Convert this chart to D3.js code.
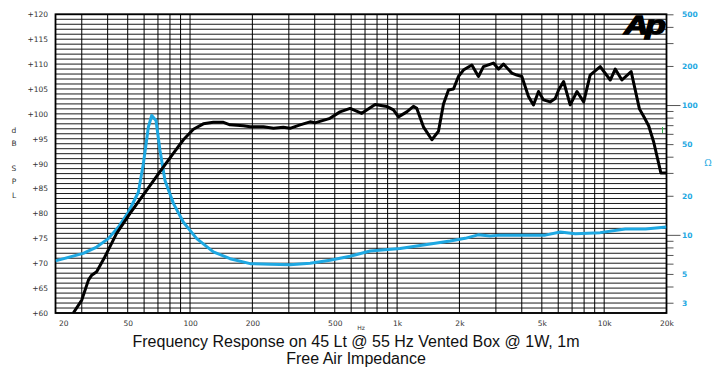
<!DOCTYPE html>
<html>
<head>
<meta charset="utf-8">
<script src="https://cdn.jsdelivr.net/npm/d3@7"></script>
<style>
    body { margin: 0; background: #fff; overflow: hidden; }
    svg { display: block; }
    .tick text { font-family: "DejaVu Sans", sans-serif; font-size: 7.5px; }
    .caption { font-family: "Liberation Sans", Arial, sans-serif; font-size: 16px; fill: #111; }
</style>
</head>
<body>
<div id="chart"></div>
<script>
// SPL curve (black), dB vs Hz
const splFreq = [27.3, 30, 32.3, 33.5, 35.4, 38.8, 44.2, 51.3, 61.8, 71.6, 83.2, 92.9, 103.8, 115.9, 129.6, 145, 156, 181, 195, 226, 253, 282, 304, 340, 380, 401, 474, 530, 593, 675, 783, 891, 960, 1015, 1114, 1199, 1245, 1340, 1472, 1584, 1675, 1771, 1872, 1977, 2090, 2296, 2471, 2612, 2918, 3087, 3264, 3580, 3786, 4003, 4309, 4556, 4818, 5095, 5483, 5804, 6023, 6369, 6854, 7392, 7965, 8555, 9570, 10700, 11310, 12180, 13500, 14800, 15600, 16400, 17330, 18800, 20000];
const splDb = [60, 62.6, 66.6, 67.6, 68.3, 71.3, 76.0, 80.0, 84.7, 88.4, 92.1, 94.8, 96.9, 98.0, 98.3, 98.3, 97.8, 97.6, 97.4, 97.4, 97.1, 97.3, 97.1, 97.8, 98.4, 98.2, 99.1, 100.4, 101.1, 100.1, 101.9, 101.5, 100.8, 99.4, 100.4, 101.5, 101.1, 97.4, 94.8, 96.5, 102.0, 104.8, 105.0, 107.5, 108.8, 109.8, 107.5, 109.5, 110.2, 109.0, 110.0, 108.2, 107.8, 107.5, 103.5, 101.8, 104.5, 102.8, 102.4, 103.1, 104.8, 106.5, 101.8, 104.5, 102.4, 107.8, 109.5, 106.8, 109.0, 106.8, 108.5, 101.0, 99.3, 97.6, 94.4, 88.1, 88.1];

// impedance curve (blue), ohms vs Hz
const impFreq = [22.4, 30.5, 35.4, 40.3, 45.1, 50.4, 56.3, 59.5, 62.9, 65.3, 68.5, 71.6, 75.7, 83.2, 92.9, 107.7, 129.6, 156, 195, 243, 304, 380, 474, 593, 741, 1034, 1444, 1803, 2130, 2462, 2812, 3144, 3927, 5194, 6139, 7250, 9570, 12650, 15830, 20000];
const impOhm = [6.3, 7.2, 8.05, 9.35, 11.5, 15, 21.3, 35.3, 67.5, 83, 76, 44.7, 26.2, 17.4, 12.5, 9.35, 7.4, 6.55, 6.0, 5.93, 5.88, 6.05, 6.38, 6.84, 7.5, 7.85, 8.5, 8.95, 9.4, 10.0, 9.8, 9.95, 9.95, 9.95, 10.5, 10.2, 10.4, 11.1, 11.1, 11.5];

const xTicks = [22.4, 50, 100, 200, 500, 1000, 2000, 5000, 10000, 20000];
const xTickLabels = ["20", "50", "100", "200", "500", "1k", "2k", "5k", "10k", "20k"];
const xGrid = [30, 40, 50, 60, 70, 80, 90, 100, 200, 300, 400, 500, 600, 700, 800, 900,
    1000, 2000, 3000, 4000, 5000, 6000, 7000, 8000, 9000, 10000];
const dbTicks = [60, 65, 70, 75, 80, 85, 90, 95, 100, 105, 110, 115, 120];
const ohmTicks = [500, 400, 300, 200, 100, 90, 80, 70, 60, 50, 40, 30, 20, 10, 9, 8, 7, 6, 5, 4, 3];
const ohmLabels = [500, 200, 100, 50, 20, 10, 5, 3];
const ohmLong = [100, 10];
const yTitle = ["d", "B", "S", "P", "L"];

const W = 721, H = 367;
const L = 55.5, R = 666.5, T = 14.3, B = 313;
const blue = "#1ea8e2";

const x = d3.scaleLog().domain([22.4, 20000]).range([L, R]);
const y = d3.scaleLinear().domain([60, 120]).range([B, T]);
const z = d3.scaleLog().domain([2.5, 500]).range([B, T]);

const svg = d3.select("#chart").append("svg")
    .attr("width", W)
    .attr("height", H);

// grid
const grid = svg.append("g");
grid.selectAll("line.h")
    .data(d3.range(60, 121))
    .enter().append("line")
    .attr("x1", L).attr("x2", R)
    .attr("y1", d => y(d)).attr("y2", d => y(d))
    .attr("stroke", "#000").attr("stroke-width", 0.9);
grid.selectAll("line.v")
    .data(xGrid)
    .enter().append("line")
    .attr("x1", d => x(d)).attr("x2", d => x(d))
    .attr("y1", T).attr("y2", B)
    .attr("stroke", "#000").attr("stroke-width", 1);

// logo
svg.append("text")
    .attr("transform", "translate(624,34) scale(1.3,1)")
    .attr("font-family", "Liberation Sans, Arial, sans-serif")
    .attr("font-size", 26)
    .attr("font-weight", 900)
    .attr("font-style", "italic")
    .attr("letter-spacing", -2.5)
    .attr("fill", "#000")
    .attr("stroke", "#000")
    .attr("stroke-width", 1.3)
    .text("Ap");

// axes
const xAxis = svg.append("g")
    .attr("transform", `translate(0,${B})`)
    .call(d3.axisBottom(x).tickValues(xTicks).tickFormat((d, i) => xTickLabels[i]).tickSize(0).tickPadding(8));
xAxis.select(".domain").remove();
xAxis.selectAll("text").attr("fill", "#333");
xAxis.select(".tick text").attr("text-anchor", "start").attr("x", 3);

const yAxis = svg.append("g")
    .attr("transform", `translate(${L},0)`)
    .call(d3.axisLeft(y).tickValues(dbTicks).tickFormat(d => "+" + d).tickSize(0).tickPadding(7.5));
yAxis.select(".domain").remove();
yAxis.selectAll("text").attr("fill", "#333");

const zAxis = svg.append("g")
    .attr("transform", `translate(${R},0)`)
    .call(d3.axisRight(z).tickValues(ohmTicks)
        .tickFormat(d => ohmLabels.includes(d) ? d : "")
        .tickSize(7).tickPadding(8.5));
zAxis.select(".domain").remove();
zAxis.selectAll("line").attr("stroke", "#555")
    .attr("x2", d => ohmLong.includes(d) ? 14 : 7);
zAxis.selectAll("text").attr("fill", blue).attr("font-weight", "bold");

// frame
svg.append("rect")
    .attr("x", L).attr("y", T)
    .attr("width", R - L).attr("height", B - T)
    .attr("fill", "none").attr("stroke", "#000").attr("stroke-width", 1.8);

// curves
const clipId = "plotclip";
svg.append("clipPath").attr("id", clipId)
    .append("rect").attr("x", L).attr("y", T).attr("width", R - L).attr("height", B - T);

svg.append("path")
    .datum(impFreq.map((f, i) => [f, impOhm[i]]))
    .attr("clip-path", `url(#${clipId})`)
    .attr("fill", "none")
    .attr("stroke", blue)
    .attr("stroke-width", 3)
    .attr("stroke-linejoin", "round")
    .attr("d", d3.line().x(d => x(d[0])).y(d => z(d[1])));

svg.append("path")
    .datum(splFreq.map((f, i) => [f, splDb[i]]))
    .attr("clip-path", `url(#${clipId})`)
    .attr("fill", "none")
    .attr("stroke", "#000")
    .attr("stroke-width", 3)
    .attr("stroke-linejoin", "round")
    .attr("d", d3.line().x(d => x(d[0])).y(d => y(d[1])));

// small green marker near the right edge
svg.append("line")
    .attr("x1", 662.5).attr("x2", 662.5)
    .attr("y1", 127).attr("y2", 133)
    .attr("stroke", "#2fb34a").attr("stroke-width", 1);

// axis titles
svg.selectAll("text.ytitle")
    .data(yTitle)
    .enter().append("text")
    .attr("x", 14)
    .attr("y", (d, i) => [133, 146, 171, 184, 198][i])
    .attr("text-anchor", "middle")
    .attr("font-family", "DejaVu Sans, sans-serif")
    .attr("font-size", 7.5)
    .attr("fill", "#333")
    .text(d => d);

svg.append("text")
    .attr("x", 708).attr("y", 166)
    .attr("text-anchor", "middle")
    .attr("font-family", "DejaVu Serif, serif")
    .attr("font-size", 9)
    .attr("fill", blue)
    .text("Ω");

svg.append("text")
    .attr("x", 361).attr("y", 330)
    .attr("text-anchor", "middle")
    .attr("font-family", "DejaVu Sans, sans-serif")
    .attr("font-size", 6)
    .attr("fill", "#333")
    .text("Hz");

svg.append("text").attr("class", "caption")
    .attr("x", 356).attr("y", 347)
    .attr("text-anchor", "middle")
    .text("Frequency Response on 45 Lt @ 55 Hz Vented Box @ 1W, 1m");
svg.append("text").attr("class", "caption")
    .attr("x", 356).attr("y", 364)
    .attr("text-anchor", "middle")
    .text("Free Air Impedance");
</script>
</body>
</html>
